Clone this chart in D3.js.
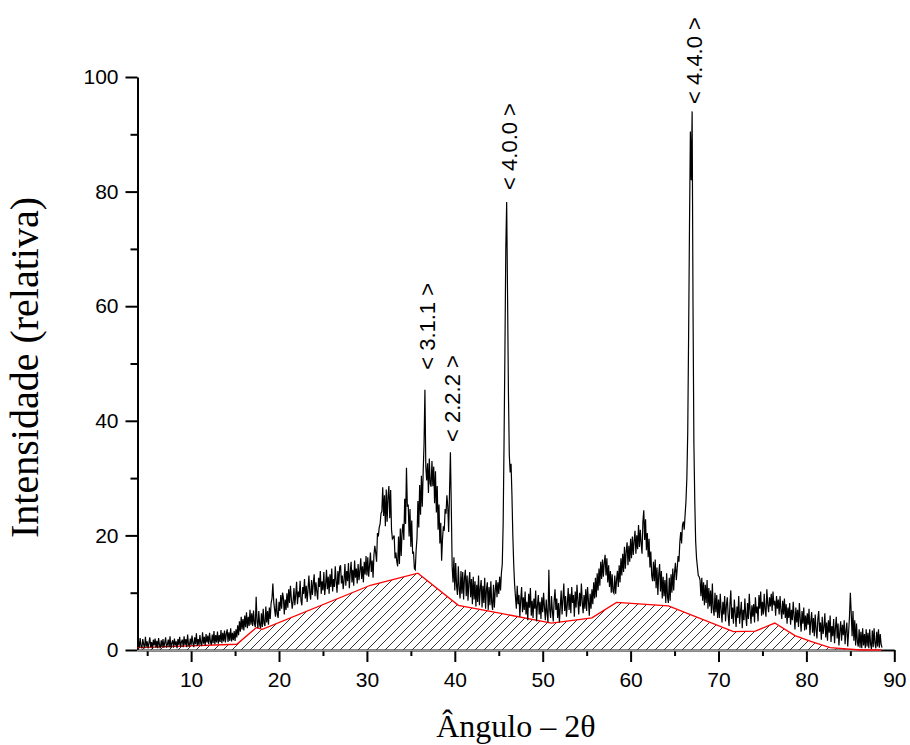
<!DOCTYPE html>
<html>
<head>
<meta charset="utf-8">
<script src="https://cdn.jsdelivr.net/npm/d3@7/dist/d3.min.js"></script>
<style>
  html, body { margin: 0; padding: 0; background: #ffffff; }
  svg { display: block; }
</style>
</head>
<body>
<svg id="chart" width="910" height="745"></svg>
<script>
// X-ray diffraction pattern, 2θ from 4.0° in steps of 0.1° (one row per degree)
const angleStart = 4.0;
const angleStep = 0.1;
const intensity = [
  1.6, 0.4, 2.1, 0.7, 0.3, 1.9, 1.0, 0.3, 2.3, 0.6,
  1.5, 0.3, 1.2, 2.2, 0.5, 1.4, 0.2, 1.8, 0.8, 2.0,
  0.4, 1.6, 0.3, 2.1, 0.9, 0.3, 1.7, 0.6, 1.9, 0.4,
  1.3, 2.2, 0.4, 1.0, 1.8, 0.5, 2.4, 0.4, 1.2, 1.7,
  0.4, 2.0, 0.8, 1.5, 0.3, 1.9, 0.9, 2.3, 0.5, 1.4,
  1.8, 0.5, 2.4, 0.9, 1.9, 0.5, 2.7, 1.0, 0.6, 2.0,
  0.9, 2.5, 1.2, 0.5, 2.2, 1.0, 2.9, 0.7, 1.9, 0.9,
  2.6, 1.2, 0.7, 3.1, 1.1, 2.3, 0.8, 2.8, 1.3, 2.5,
  1.0, 3.0, 1.4, 0.9, 2.7, 1.2, 3.3, 1.0, 2.6, 1.3,
  3.2, 1.1, 2.6, 1.4, 3.5, 1.2, 3.0, 1.5, 3.4, 1.3,
  2.8, 3.6, 1.4, 3.1, 1.6, 3.8, 1.5, 3.0, 1.7, 3.3,
  1.6, 3.6, 2.2, 4.3, 2.6, 5.0, 3.2, 5.8, 3.6, 5.4,
  3.4, 6.0, 4.0, 6.6, 3.8, 5.8, 4.2, 7.0, 4.4, 6.4,
  4.2, 6.9, 4.6, 4.0, 9.3, 5.0, 3.8, 6.8, 4.4, 3.8,
  6.4, 4.0, 7.2, 4.6, 4.2, 7.6, 4.8, 6.8, 4.4, 7.4,
  5.4, 8.2, 9.0, 11.6, 8.4, 7.0, 5.8, 9.0, 6.2, 5.6,
  8.4, 6.8, 9.6, 7.2, 10.0, 9.1, 6.2, 8.8, 7.0, 9.9,
  7.4, 10.6, 8.2, 11.2, 9.0, 7.2, 8.4, 10.8, 7.8, 9.6,
  11.9, 8.0, 10.2, 9.2, 12.1, 8.6, 7.8, 11.0, 9.8, 12.4,
  9.0, 11.2, 8.4, 10.6, 13.0, 10.0, 8.8, 12.2, 9.6, 11.6,
  13.2, 9.4, 11.8, 10.2, 8.8, 12.6, 11.0, 13.8, 9.8, 12.0,
  10.4, 13.6, 9.6, 11.4, 14.0, 10.6, 12.8, 9.8, 13.2, 11.0,
  14.2, 10.2, 12.4, 11.0, 14.6, 12.0, 10.0, 13.8, 11.4, 14.4,
  14.8, 11.6, 13.0, 10.6, 12.2, 15.0, 11.2, 13.8, 12.0, 15.2,
  10.8, 13.4, 15.4, 11.8, 14.0, 11.2, 15.6, 12.6, 14.2, 11.6,
  15.0, 12.2, 13.8, 16.0, 12.4, 14.6, 11.8, 15.4, 13.2, 16.4,
  13.0, 16.2, 12.8, 14.8, 17.0, 13.6, 15.6, 12.6, 16.6, 18.2,
  17.0, 15.4, 20.4, 19.8, 21.4, 22.0, 23.8, 24.2, 28.4, 23.4,
  27.0, 21.6, 28.0, 22.4, 26.8, 28.6, 23.0, 27.9, 21.0, 19.4,
  19.6, 20.0, 16.0, 17.0, 15.4, 14.6, 19.8, 15.0, 21.2, 16.4,
  20.6, 22.0, 19.2, 26.4, 22.0, 31.8, 25.0, 25.4, 19.8, 24.6,
  18.0, 22.6, 16.8, 17.2, 14.2, 14.0, 17.4, 19.6, 26.0, 21.4,
  28.8, 23.6, 30.4, 25.0, 31.0, 36.0, 45.4, 32.0, 29.6, 32.6,
  27.4, 33.4, 29.0, 28.5, 33.0, 28.6, 32.0, 25.6, 31.2, 24.0,
  28.6, 21.0, 25.4, 18.6, 22.2, 15.6, 19.4, 21.6, 20.8, 24.6,
  23.8, 27.0, 25.0, 20.6, 27.6, 34.5, 25.0, 14.5, 11.8, 16.2,
  10.4, 15.2, 11.2, 9.6, 14.6, 10.6, 9.0, 13.8, 9.8, 13.6,
  8.8, 12.6, 14.0, 9.4, 13.0, 8.6, 11.8, 13.6, 9.2, 12.4,
  8.0, 12.8, 8.8, 12.0, 7.6, 11.4, 8.4, 13.0, 7.8, 10.8,
  12.2, 7.4, 11.2, 8.2, 12.6, 7.2, 10.6, 11.8, 7.0, 11.0,
  7.8, 12.0, 8.2, 7.0, 11.4, 7.4, 10.4, 12.2, 9.2, 11.8,
  9.8, 12.8, 10.4, 13.4, 15.0, 22.0, 36.0, 52.0, 70.0, 78.2,
  62.0, 45.0, 34.0, 31.0, 32.5, 27.0, 20.0, 15.0, 11.5, 9.3,
  7.2, 11.2, 8.0, 9.6, 5.8, 8.8, 11.0, 6.6, 9.2, 7.0,
  10.2, 6.2, 8.4, 5.2, 9.8, 7.4, 10.8, 6.0, 8.6, 5.6,
  9.0, 7.2, 10.4, 5.0, 7.8, 9.6, 6.2, 8.4, 5.4, 9.2,
  6.6, 10.0, 7.4, 5.2, 8.8, 6.4, 4.8, 14.0, 7.0, 5.6,
  9.4, 6.8, 5.0, 8.6, 10.6, 7.0, 9.0, 5.6, 8.2, 4.8,
  7.6, 10.4, 6.2, 8.8, 11.6, 6.8, 9.4, 5.8, 8.0, 10.8,
  7.0, 9.8, 6.4, 11.0, 8.2, 9.6, 5.8, 10.2, 7.4, 11.4,
  8.6, 6.2, 10.0, 7.6, 11.6, 8.4, 6.4, 9.6, 7.2, 10.6,
  6.8, 11.0, 8.6, 6.0, 9.8, 7.2, 10.6, 8.0, 11.8, 9.0,
  12.6, 9.2, 13.4, 10.4, 14.2, 11.2, 15.4, 12.4, 15.8, 12.8,
  15.2, 16.6, 13.0, 16.0, 11.8, 14.8, 11.0, 13.8, 10.0, 13.2,
  10.2, 9.9, 13.0, 9.8, 12.2, 13.8, 11.0, 14.8, 11.8, 16.0,
  13.0, 16.8, 13.6, 18.0, 14.2, 17.2, 18.8, 14.8, 18.2, 15.4,
  19.4, 16.0, 19.8, 16.6, 19.0, 20.8, 16.8, 20.0, 17.6, 21.8,
  18.0, 21.0, 18.6, 16.8, 22.4, 24.4, 19.2, 22.8, 17.4, 20.4,
  16.2, 19.4, 14.4, 17.2, 13.0, 12.0, 15.4, 12.0, 15.8, 10.8,
  14.4, 9.6, 13.2, 15.0, 10.2, 13.8, 9.0, 12.8, 9.4, 12.2,
  8.2, 13.4, 9.2, 8.2, 12.6, 8.6, 13.2, 10.0, 14.2, 10.4,
  13.6, 15.2, 12.2, 14.2, 16.4, 15.4, 18.8, 20.6, 18.6, 21.8,
  22.4, 21.0, 23.6, 26.0, 30.0, 38.0, 55.0, 74.0, 90.5, 82.0,
  94.0, 60.0, 36.0, 26.0, 19.0, 16.0, 14.5, 13.0, 12.8, 12.2,
  9.4, 12.6, 8.6, 11.8, 7.8, 11.4, 8.2, 12.2, 7.2, 10.8,
  7.6, 10.4, 6.4, 11.6, 7.2, 6.0, 10.0, 6.6, 9.6, 5.6,
  8.8, 5.6, 9.8, 7.0, 4.8, 8.4, 6.2, 9.4, 5.0, 7.8,
  9.2, 6.0, 4.2, 8.0, 10.4, 5.4, 7.4, 4.6, 8.8, 6.4,
  4.0, 7.6, 5.6, 9.4, 4.6, 6.6, 8.4, 3.8, 7.0, 5.2,
  9.0, 6.0, 4.2, 8.2, 5.4, 9.8, 6.8, 4.6, 7.8, 5.8,
  8.0, 4.8, 9.2, 6.4, 7.6, 5.0, 9.6, 7.2, 10.2, 6.0,
  8.4, 6.2, 9.8, 7.0, 5.8, 10.6, 8.0, 6.6, 9.2, 7.6,
  9.8, 6.8, 10.2, 7.8, 8.6, 6.0, 9.4, 7.2, 8.8, 6.2,
  9.4, 7.0, 5.4, 8.6, 6.2, 9.0, 5.6, 8.0, 4.6, 7.4,
  5.6, 8.2, 4.4, 7.0, 5.2, 8.4, 6.0, 3.6, 7.4, 4.8,
  7.0, 4.0, 8.2, 5.4, 3.2, 6.8, 4.6, 7.4, 3.4, 6.0,
  3.6, 6.4, 4.4, 7.2, 2.6, 5.0, 6.6, 3.0, 5.6, 2.4,
  6.2, 3.6, 2.0, 5.4, 6.8, 3.2, 4.8, 1.8, 5.8, 2.8,
  4.0, 6.4, 2.2, 4.8, 1.6, 5.2, 3.0, 6.0, 1.4, 4.2,
  2.4, 5.4, 1.2, 3.8, 5.8, 2.0, 4.6, 0.8, 3.2, 5.0,
  1.6, 4.4, 2.6, 5.2, 1.0, 3.4, 4.8, 0.6, 3.0, 5.8,
  10.0, 6.4, 2.4, 6.8, 1.6, 5.2, 0.8, 4.6, 1.4, 0.6,
  3.6, 0.4, 3.2, 0.3, 3.8, 0.8, 2.8, 0.3, 3.6, 0.6,
  3.0, 0.3, 3.6, 1.0, 0.2, 3.4, 0.5, 3.8, 1.2, 0.3,
  3.2, 0.6, 3.6, 0.4, 2.8, 1.0, 0.4
];

// Amorphous background (red line) and the hatched area beneath it
const baselineAngle = [3.9, 15.2, 17.4, 18.1, 30.4, 35.8, 40.4, 44.2, 51.0, 55.6, 58.4, 64.3, 71.7, 74.2, 76.4, 78.7, 80.5, 82.7, 86.1, 88.5];
const baselineValue = [0.4, 1.0, 3.9, 3.6, 11.3, 13.4, 7.8, 6.7, 4.7, 5.6, 8.3, 7.7, 3.2, 3.3, 4.7, 2.5, 1.5, 0.4, 0.0, 0.0];

// Reflection labels (Miller indices)
const peakLabels = ["< 3.1.1 >", "< 2.2.2 >", "< 4.0.0 >", "< 4.4.0 >"];
const peakAngle = [36.6, 39.5, 45.9, 67.0];
const peakLabelStart = [48.9, 36.3, 80.3, 95.3];

const xMajorTicks = [10, 20, 30, 40, 50, 60, 70, 80, 90];
const xMinorTicks = [5, 15, 25, 35, 45, 55, 65, 75, 85];
const yMajorTicks = [0, 20, 40, 60, 80, 100];
const yMinorTicks = [10, 30, 50, 70, 90];

const xTitle = "Ângulo – 2θ";
const yTitle = "Intensidade (relativa)";

const svg = d3.select("#chart");

const x = d3.scaleLinear().domain([3.9, 90]).range([137.5, 894.3]);
const y = d3.scaleLinear().domain([0, 100]).range([650, 77]);

const spectrum = intensity.map((v, i) => ({ a: angleStart + i * angleStep, v: v }));
const background = baselineAngle.map((a, i) => ({ a: a, v: baselineValue[i] }));

// hatch pattern
const defs = svg.append("defs");
const pat = defs.append("pattern")
  .attr("id", "hatch")
  .attr("patternUnits", "userSpaceOnUse")
  .attr("width", 9)
  .attr("height", 9);
pat.append("path")
  .attr("d", "M0,9 L9,0 M-2,2 L2,-2 M7,11 L11,7")
  .attr("stroke", "#000")
  .attr("stroke-width", 0.8)
  .attr("fill", "none");

// hatched background area
svg.append("path")
  .datum(background)
  .attr("fill", "url(#hatch)")
  .attr("stroke", "none")
  .attr("d", d3.area().x(d => x(d.a)).y0(y(0)).y1(d => y(d.v)));

// axes
const fontSans = "'Liberation Sans', Arial, Helvetica, sans-serif";
const fontSerif = "'Liberation Serif', 'Times New Roman', Times, serif";

svg.append("g")
  .attr("transform", `translate(0,${y(0)})`)
  .call(d3.axisBottom(x).tickValues(xMajorTicks).tickSize(12).tickSizeOuter(0).tickPadding(10).tickFormat(d3.format("d")));
const xMinor = svg.append("g")
  .attr("transform", `translate(0,${y(0)})`)
  .call(d3.axisBottom(x).tickValues(xMinorTicks).tickSize(6).tickSizeOuter(0).tickFormat(""));
xMinor.select(".domain").remove();

svg.append("g")
  .attr("transform", `translate(${x(3.9)},0)`)
  .call(d3.axisLeft(y).tickValues(yMajorTicks).tickSize(12).tickSizeOuter(0).tickPadding(7).tickFormat(d3.format("d")));
const yMinor = svg.append("g")
  .attr("transform", `translate(${x(3.9)},0)`)
  .call(d3.axisLeft(y).tickValues(yMinorTicks).tickSize(7).tickSizeOuter(0).tickFormat(""));
yMinor.select(".domain").remove();

svg.selectAll(".domain, .tick line")
  .attr("stroke", "#000")
  .attr("stroke-width", 2);
svg.selectAll(".tick text")
  .attr("fill", "#000")
  .style("font-family", fontSans)
  .style("font-size", "21px");

// grey lower edge of the hatched region
svg.append("line")
  .attr("x1", x(baselineAngle[0])).attr("x2", x(baselineAngle[baselineAngle.length - 1]))
  .attr("y1", y(0) + 0.5).attr("y2", y(0) + 0.5)
  .attr("stroke", "#9a9a9a")
  .attr("stroke-width", 1.5);

// red background line
svg.append("path")
  .datum(background)
  .attr("fill", "none")
  .attr("stroke", "#ff0000")
  .attr("stroke-width", 1.3)
  .attr("d", d3.line().x(d => x(d.a)).y(d => y(d.v)));

// diffraction pattern
svg.append("path")
  .datum(spectrum)
  .attr("fill", "none")
  .attr("stroke", "#000")
  .attr("stroke-width", 1.2)
  .attr("stroke-linejoin", "miter")
  .attr("d", d3.line().x(d => x(d.a)).y(d => y(d.v)));

// reflection labels
svg.selectAll("text.peak")
  .data(peakLabels)
  .join("text")
  .attr("class", "peak")
  .attr("transform", (d, i) => `translate(${x(peakAngle[i]) + 10},${y(peakLabelStart[i])}) rotate(-90)`)
  .attr("text-anchor", "start")
  .style("font-family", fontSans)
  .style("font-size", "22px")
  .attr("fill", "#000")
  .text(d => d);

// axis titles
svg.append("text")
  .attr("x", (x.range()[0] + x.range()[1]) / 2)
  .attr("y", 737)
  .attr("text-anchor", "middle")
  .style("font-family", fontSerif)
  .style("font-size", "32px")
  .attr("fill", "#000")
  .text(xTitle);

svg.append("text")
  .attr("transform", `translate(38,${(y.range()[0] + y.range()[1]) / 2 + 4}) rotate(-90)`)
  .attr("text-anchor", "middle")
  .style("font-family", fontSerif)
  .style("font-size", "40px")
  .attr("fill", "#000")
  .text(yTitle);
</script>
</body>
</html>
